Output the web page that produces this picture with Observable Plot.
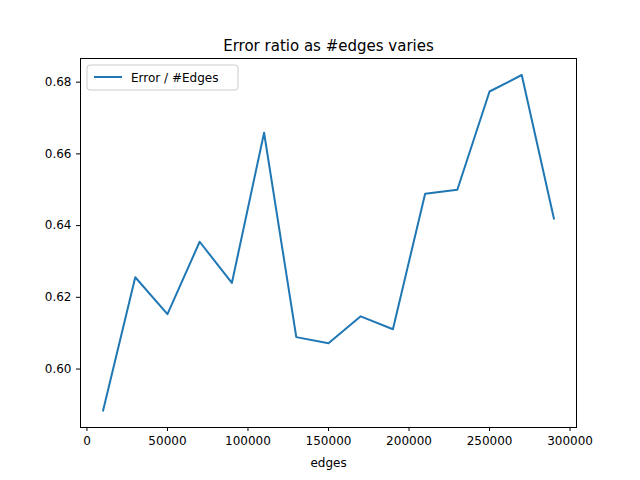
<!DOCTYPE html>
<html><head><meta charset="utf-8">
<script src="https://cdn.jsdelivr.net/npm/d3@7"></script>
<script src="https://cdn.jsdelivr.net/npm/@observablehq/plot@0.6"></script>
<style>body{margin:0;background:#fff}svg{font-family:"DejaVu Sans"}</style>
</head><body><div id="c"></div>
<script>
const edges=[10000,30000,50000,70000,90000,110000,130000,150000,170000,190000,210000,230000,250000,270000,290000];
const ratio=[0.5884,0.6256,0.6153,0.6355,0.6240,0.6659,0.6089,0.6072,0.6147,0.6111,0.6489,0.6500,0.6774,0.6820,0.6419];
const data=edges.map((e,i)=>({e,r:ratio[i]}));
const svg=Plot.plot({
  width:640,height:480,marginLeft:80,marginRight:64,marginTop:58,marginBottom:53,
  style:{fontSize:"12px",fontFamily:"DejaVu Sans",color:"#000",background:"#fff"},
  x:{domain:[-4000,304000],ticks:[0,50000,100000,150000,200000,250000,300000],tickFormat:d=>String(d),label:"edges",labelAnchor:"center",labelArrow:"none",labelOffset:39,tickSize:4},
  y:{domain:[0.5837,0.6866],ticks:[0.60,0.62,0.64,0.66,0.68],tickFormat:d=>d.toFixed(2),label:null,tickSize:4},
  marks:[
    Plot.frame({stroke:"#000"}),
    Plot.line(data,{x:"e",y:"r",stroke:"#1f77b4",strokeWidth:2}),
    Plot.text(["Error ratio as #edges varies"],{frameAnchor:"top",dy:-8,fontSize:15,lineAnchor:"bottom",fill:"#000"})
  ]
});
const g=d3.select(svg).append("g");
g.append("rect").attr("x",87).attr("y",65).attr("width",151).attr("height",25).attr("rx",3).attr("fill","#fff").attr("stroke","#ccc");
g.append("line").attr("x1",94).attr("x2",122).attr("y1",77).attr("y2",77).attr("stroke","#1f77b4").attr("stroke-width",2);
g.append("text").attr("x",131).attr("y",81.5).attr("text-anchor","start").attr("font-size",12).attr("fill","#000").text("Error / #Edges");
document.getElementById("c").append(svg);
</script></body></html>
